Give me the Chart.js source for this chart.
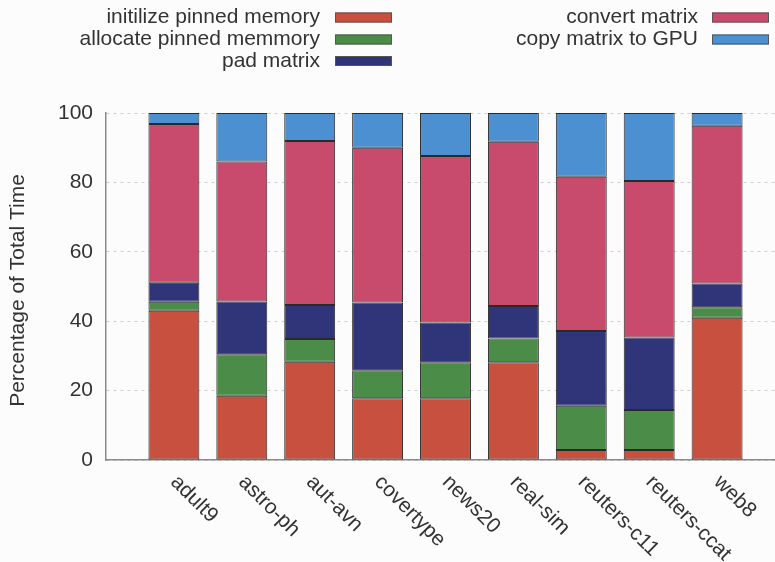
<!DOCTYPE html>
<html>
<head>
<meta charset="utf-8">
<script src="https://cdn.jsdelivr.net/npm/chart.js@4/dist/chart.umd.min.js"></script>
<style>
  html, body { margin: 0; padding: 0; background: #fcfcfc; overflow: hidden; }
  #wrap { width: 800px; height: 562px; }
</style>
</head>
<body>
<div id="wrap"><canvas id="c" width="800" height="562"></canvas></div>
<script>
// Share of total time spent in each preprocessing stage, per dataset
const categories = ['adult9', 'astro-ph', 'aut-avn', 'covertype', 'news20', 'real-sim', 'reuters-c11', 'reuters-ccat', 'web8'];
const initPinned   = [43.0, 18.5, 28.3, 17.8, 17.8, 28.2, 2.9, 2.9, 41.0];
const allocPinned  = [2.6, 12.0, 6.6, 8.1, 10.4, 6.8, 12.7, 11.5, 3.0];
const padMatrix    = [5.5, 15.2, 9.8, 19.5, 11.4, 9.4, 21.6, 20.9, 6.9];
const convertMat   = [45.7, 40.3, 47.2, 44.6, 48.0, 47.3, 44.4, 45.1, 45.4];
const copyToGpu    = [3.2, 14.0, 8.1, 10.0, 12.4, 8.3, 18.4, 19.6, 3.7];
const yTicks = [0, 20, 40, 60, 80, 100];

const seriesNames = ['initilize pinned memory', 'allocate pinned memmory', 'pad matrix', 'convert matrix', 'copy matrix to GPU'];
const seriesColors = ['#c8503f', '#4a8c48', '#30357a', '#c84a6c', '#4c90d2'];
const seriesValues = [initPinned, allocPinned, padMatrix, convertMat, copyToGpu];

// an empty slot on each side gives the gnuplot-style margin around the bars
const paddedLabels = [''].concat(categories, ['']);
const pad = arr => [null].concat(arr, [null]);

const FONT = '"Liberation Sans", Arial, sans-serif';
const TEXT = '#333333';

const overlay = {
  id: 'overlay',
  afterDraw(chart) {
    const ctx = chart.ctx;
    const xs = chart.scales.x;
    const area = chart.chartArea;
    ctx.save();
    ctx.fillStyle = TEXT;
    ctx.font = '21px ' + FONT;

    // rotated category labels
    categories.forEach((name, i) => {
      const px = xs.getPixelForValue(i + 1);
      ctx.save();
      ctx.translate(px, area.bottom + 19);
      ctx.rotate(Math.PI / 4);
      ctx.textAlign = 'left';
      ctx.textBaseline = 'middle';
      ctx.fillText(name, 0, 0);
      ctx.restore();
    });

    // y axis title
    ctx.save();
    ctx.translate(18, (area.top + area.bottom) / 2 + 4);
    ctx.rotate(-Math.PI / 2);
    ctx.textAlign = 'center';
    ctx.textBaseline = 'middle';
    ctx.fillText('Percentage of Total Time', 0, 0);
    ctx.restore();

    // key: two right-aligned columns with swatches
    const columns = [
      { items: [0, 1, 2], textRight: 320, swatchX: 335 },
      { items: [3, 4], textRight: 698, swatchX: 712 }
    ];
    const rowY = [17.5, 39.5, 61];
    ctx.textAlign = 'right';
    ctx.textBaseline = 'middle';
    columns.forEach(col => {
      col.items.forEach((di, r) => {
        const ds = chart.data.datasets[di];
        const y = rowY[r];
        ctx.fillStyle = TEXT;
        ctx.fillText(ds.label, col.textRight, y);
        ctx.fillStyle = ds.backgroundColor;
        ctx.fillRect(col.swatchX, y - 5, 57, 10);
        ctx.strokeStyle = '#555';
        ctx.lineWidth = 1;
        ctx.strokeRect(col.swatchX + 0.5, y - 4.5, 56, 9);
      });
    });
    ctx.restore();
  }
};

new Chart(document.getElementById('c'), {
  type: 'bar',
  data: {
    labels: paddedLabels,
    datasets: seriesNames.map((name, k) => ({
      label: name,
      data: pad(seriesValues[k]),
      backgroundColor: seriesColors[k],
      borderColor: '#2a2a2a',
      borderWidth: 1,
      borderSkipped: false,
      categoryPercentage: 1.0,
      barPercentage: 0.75
    }))
  },
  options: {
    responsive: false,
    animation: false,
    events: [],
    layout: { padding: { top: 113, left: 0, right: 15, bottom: 102 } },
    plugins: { legend: { display: false }, tooltip: { enabled: false } },
    scales: {
      x: {
        stacked: true,
        offset: false,
        grid: { display: false, drawTicks: false },
        border: { display: true, color: '#8a8a8a', width: 1.5 },
        ticks: { display: false },
        afterFit(scale) { scale.height = 0; }
      },
      y: {
        stacked: true,
        min: 0,
        max: 100,
        afterBuildTicks(scale) { scale.ticks = yTicks.map(v => ({ value: v })); },
        grid: { color: '#cfcfcf', lineWidth: 1, drawTicks: false },
        border: { display: true, color: '#8a8a8a', width: 1.5, dash: [3, 4] },
        ticks: {
          color: TEXT,
          padding: 13,
          font: { family: FONT, size: 21 }
        },
        afterFit(scale) { scale.width = 106; }
      }
    }
  },
  plugins: [overlay]
});
</script>
</body>
</html>
